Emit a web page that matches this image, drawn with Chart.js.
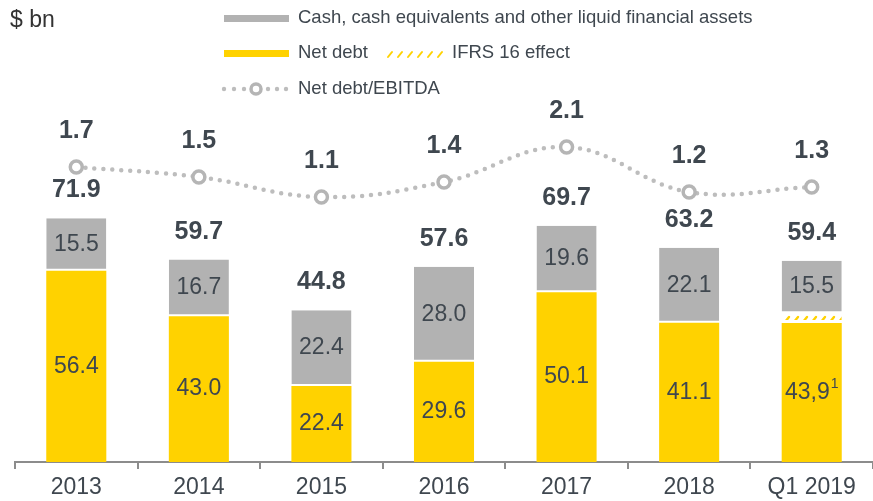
<!DOCTYPE html>
<html>
<head>
<meta charset="utf-8">
<script src="https://cdn.jsdelivr.net/npm/chart.js@4.4.0/dist/chart.umd.min.js"></script>
<style>
  html, body { margin: 0; padding: 0; background: #fff; }
  #wrap { position: relative; width: 873px; height: 501px; }
</style>
</head>
<body>
<div id="wrap"><canvas id="chart" width="873" height="501"></canvas></div>
<script>
// chart data
const categories = ["2013", "2014", "2015", "2016", "2017", "2018", "Q1 2019"];
const netDebt = [56.4, 43.0, 22.4, 29.6, 50.1, 41.1, 41.0];
const ifrs16 = [0, 0, 0, 0, 0, 0, 2.9];
const cash = [15.5, 16.7, 22.4, 28.0, 19.6, 22.1, 15.5];
const totals = [71.9, 59.7, 44.8, 57.6, 69.7, 63.2, 59.4];
const netDebtLabels = ["56.4", "43.0", "22.4", "29.6", "50.1", "41.1", "43,9"];
const netDebtNotes = ["", "", "", "", "", "", "1"];
const leverage = [1.7, 1.5, 1.1, 1.4, 2.1, 1.2, 1.3];

const FONT = "'Liberation Sans', Arial, sans-serif";
const TEXT = "#3f474f";
const YELLOW = "#FFD200";
const GREY = "#B2B2B2";
const LINE_GREY = "#BDBDBD";

// hatch pattern for the IFRS 16 slice
function makeHatch() {
    const c = document.createElement("canvas");
    c.width = 9; c.height = 9;
    const g = c.getContext("2d");
    g.fillStyle = "#fff";
    g.fillRect(0, 0, 9, 9);
    g.strokeStyle = YELLOW;
    g.lineWidth = 2.4;
    g.lineCap = "round";
    g.beginPath();
    g.moveTo(2, 7);
    g.lineTo(6, 2);
    g.stroke();
    return g.createPattern(c, "repeat");
}
const hatch = makeHatch();

const labelPlugin = {
    id: "valueLabels",
    afterDatasetsDraw(chart) {
        const ctx = chart.ctx;
        const ndMeta = chart.getDatasetMeta(0);
        const cashMeta = chart.getDatasetMeta(2);
        const lineMeta = chart.getDatasetMeta(3);
        ctx.save();
        ctx.fillStyle = TEXT;
        ctx.textAlign = "center";
        ctx.textBaseline = "middle";
        categories.forEach((c, i) => {
            // net debt inside
            const nd = ndMeta.data[i];
            const ndY = (nd.y + nd.base) / 2;
            ctx.font = "23px " + FONT;
            if (netDebtNotes[i]) {
                const w = ctx.measureText(netDebtLabels[i]).width;
                ctx.font = "14px " + FONT;
                const w2 = ctx.measureText(netDebtNotes[i]).width;
                const x0 = nd.x - (w + w2 + 1) / 2;
                ctx.textAlign = "left";
                ctx.font = "23px " + FONT;
                ctx.fillText(netDebtLabels[i], x0, ndY);
                ctx.font = "14px " + FONT;
                ctx.fillText(netDebtNotes[i], x0 + w + 1, ndY - 8);
                ctx.textAlign = "center";
            } else {
                ctx.fillText(netDebtLabels[i], nd.x, ndY);
            }
            // cash inside
            const cs = cashMeta.data[i];
            ctx.font = "23px " + FONT;
            ctx.fillText(cash[i].toFixed(1), cs.x, (cs.y + cs.base) / 2);
            // total above
            ctx.font = "bold 25px " + FONT;
            ctx.fillText(totals[i].toFixed(1), cs.x, cs.y - 28);
            // leverage above point
            const pt = lineMeta.data[i];
            ctx.fillText(leverage[i].toFixed(1), pt.x, pt.y - 36);
        });
        ctx.restore();
    }
};

const legendPlugin = {
    id: "customLegend",
    afterDraw(chart) {
        const ctx = chart.ctx;
        ctx.save();
        ctx.fillStyle = "#333";
        ctx.font = "23px " + FONT;
        ctx.textBaseline = "middle";
        ctx.textAlign = "left";
        ctx.fillText("$ bn", 10, 21);

        ctx.font = "18.5px " + FONT;
        ctx.fillStyle = GREY;
        ctx.fillRect(224, 15, 65, 7);
        ctx.fillStyle = TEXT;
        ctx.fillText("Cash, cash equivalents and other liquid financial assets", 298, 18);

        ctx.fillStyle = YELLOW;
        ctx.fillRect(224, 50, 65, 7);
        ctx.fillStyle = TEXT;
        ctx.fillText("Net debt", 298, 53);
        ctx.strokeStyle = YELLOW;
        ctx.lineWidth = 2;
        ctx.lineCap = "round";
        for (let k = 0; k < 6; k++) {
            const x = 388 + k * 10;
            ctx.beginPath();
            ctx.moveTo(x, 57);
            ctx.lineTo(x + 4, 52);
            ctx.stroke();
        }
        ctx.fillStyle = TEXT;
        ctx.fillText("IFRS 16 effect", 452, 53);

        ctx.fillStyle = LINE_GREY;
        [224, 234, 244, 268, 277, 286].forEach(x => {
            ctx.beginPath();
            ctx.arc(x, 89, 2.2, 0, Math.PI * 2);
            ctx.fill();
        });
        ctx.strokeStyle = "#B5B5B5";
        ctx.lineWidth = 3.5;
        ctx.beginPath();
        ctx.arc(256, 89, 5, 0, Math.PI * 2);
        ctx.fillStyle = "#fff";
        ctx.fill();
        ctx.stroke();
        ctx.fillStyle = TEXT;
        ctx.fillText("Net debt/EBITDA", 298, 89);
        ctx.restore();
    }
};

new Chart(document.getElementById("chart"), {
    type: "bar",
    data: {
        labels: categories,
        datasets: [
            {
                label: "Net debt",
                data: netDebt,
                backgroundColor: YELLOW,
                borderWidth: 0,
                yAxisID: "y",
                order: 2
            },
            {
                label: "IFRS 16 effect",
                data: ifrs16,
                backgroundColor: hatch,
                borderColor: "#fff",
                borderWidth: { top: 2, bottom: 3, left: 0, right: 0 },
                borderSkipped: false,
                yAxisID: "y",
                order: 2
            },
            {
                label: "Cash, cash equivalents and other liquid financial assets",
                data: cash,
                backgroundColor: GREY,
                borderColor: "#fff",
                borderWidth: { top: 0, bottom: 2, left: 0, right: 0 },
                borderSkipped: false,
                yAxisID: "y",
                order: 2
            },
            {
                type: "line",
                label: "Net debt/EBITDA",
                data: leverage,
                yAxisID: "y2",
                borderColor: LINE_GREY,
                borderWidth: 4.5,
                borderDash: [0, 9],
                borderCapStyle: "round",
                tension: 0.4,
                pointRadius: 6,
                pointBorderWidth: 3.5,
                pointBorderColor: "#B5B5B5",
                pointBackgroundColor: "#fff",
                order: 1
            }
        ]
    },
    options: {
        responsive: false,
        animation: false,
        devicePixelRatio: 1,
        categoryPercentage: 1,
        barPercentage: 0.49,
        layout: { autoPadding: false, padding: { top: 123, left: 15, right: 0, bottom: 0 } },
        plugins: {
            legend: { display: false },
            tooltip: { enabled: false }
        },
        scales: {
            x: {
                stacked: true,
                grid: {
                    offset: true,
                    drawOnChartArea: false,
                    drawTicks: true,
                    tickLength: 7,
                    color: "#8c8c8c",
                    lineWidth: 2
                },
                border: { color: "#8c8c8c", width: 2 },
                ticks: {
                    color: TEXT,
                    font: { size: 23, family: FONT },
                    padding: 5,
                    maxRotation: 0
                },
                afterFit(scale) { scale.height = 39; }
            },
            y: {
                stacked: true,
                display: false,
                min: 0,
                max: 100
            },
            y2: {
                display: false,
                position: "right",
                min: -4.2,
                max: 2.58
            }
        }
    },
    plugins: [labelPlugin, legendPlugin]
});
</script>
</body>
</html>
